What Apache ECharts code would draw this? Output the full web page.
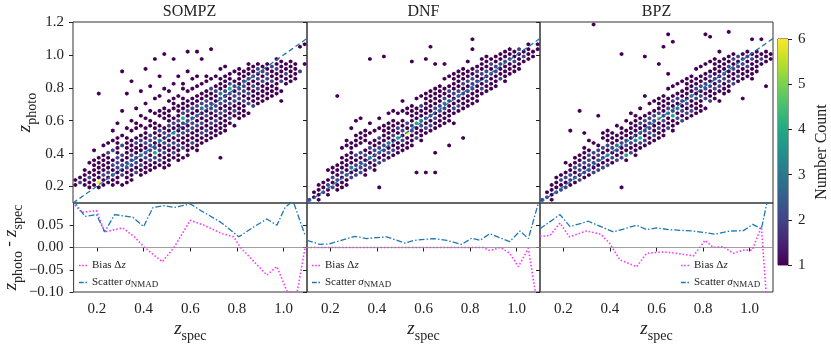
<!DOCTYPE html>
<html>
<head>
<meta charset="utf-8">
<script src="https://cdn.jsdelivr.net/npm/echarts@6/dist/echarts.min.js"></script>
<style>
  html, body { margin: 0; padding: 0; background: #fff; }
  #main { width: 831px; height: 344px; }
</style>
</head>
<body>
<div id="main"></div>
<script>
// galaxies, in hundredths: [zspec, [zphoto, ...]]
var sompzCols = [
  [11,[22,24]],[13,[21,22,26]],[15,[22,23,27,30]],[17,[20,22,25,26,29,33]],[19,[22,24,27,29,32,35,41]],
  [21,[20,22,23,26,29,31,34,37,76]],[23,[22,25,26,28,31,34,35,38,44]],[25,[22,24,27,29,30,33,36,39,40,47]],
  [27,[22,25,26,28,31,33,34,37,41,43,48,53]],[29,[22,24,27,30,31,33,36,38,39,42,45,49,58]],
  [31,[22,26,27,29,32,34,37,38,40,44,46,52,66,90]],[33,[22,25,28,30,31,34,35,38,41,42,45,50,55,75]],
  [35,[25,27,29,32,33,36,39,40,43,44,48,53,61,85]],[37,[27,28,31,33,35,37,38,41,43,46,47,50,54,57,68]],
  [39,[28,30,32,34,37,38,40,42,45,48,49,52,56,63,78]],[41,[29,31,33,36,38,39,41,44,45,47,50,53,55,60,70,92]],
  [43,[31,32,35,37,39,41,42,45,47,48,51,52,57,61,66,82]],[45,[32,34,37,38,40,43,44,46,49,50,53,56,59,64,72,98]],
  [47,[33,36,37,40,42,43,46,48,49,51,54,55,58,62,65,75,88]],[49,[31,35,38,39,41,44,45,47,50,52,53,56,60,63,68,80,100]],
  [51,[34,37,39,41,44,45,47,50,51,53,56,58,61,64,66,71,78]],[53,[36,39,41,42,45,47,48,51,53,55,57,59,62,66,69,72,82,97]],
  [55,[37,40,43,44,46,49,50,52,55,56,59,61,63,67,70,76,87]],[57,[38,42,44,46,48,51,52,54,57,58,60,63,64,68,71,74,79,83]],
  [59,[40,43,46,48,50,53,54,56,59,60,62,65,66,69,72,77,89,103]],[61,[42,45,47,50,52,55,56,58,60,62,64,67,68,70,74,78,84]],
  [63,[43,46,49,52,54,56,57,60,62,63,65,68,70,72,76,80,86,102]],[65,[45,48,51,53,56,58,59,61,63,66,67,69,71,74,77,82,97]],
  [67,[47,50,53,55,58,59,62,64,65,68,70,71,73,76,79,83,88]],[69,[49,52,54,57,59,61,63,66,67,69,71,73,75,78,80,85,104]],
  [71,[51,54,57,59,61,62,65,67,69,70,73,75,77,79,82,86]],[73,[38,53,56,58,61,63,64,67,69,71,73,74,77,79,81,84,90]],
  [75,[55,57,60,63,65,67,68,71,72,75,77,79,81,83,87,92]],[77,[57,60,62,65,67,69,71,72,75,77,78,81,83,85,88]],
  [79,[58,62,65,67,69,71,73,75,76,79,81,82,85,89]],[81,[61,64,67,69,72,73,75,77,79,80,83,84,87,91]],
  [83,[63,66,69,71,73,76,77,79,81,83,85,88,91]],[85,[65,69,71,74,76,77,80,81,84,86,87,90,93]],
  [87,[68,70,73,75,78,80,81,83,86,88,89,92]],[89,[70,73,75,78,80,82,84,85,88,90,92,95]],
  [91,[72,76,78,81,83,85,86,89,91,93]],[93,[72,75,79,81,84,86,88,89,92,95]],[95,[74,78,80,83,85,88,90,92,94]],
  [97,[77,80,82,85,87,90,91,94,96]],[99,[71,79,83,85,88,89,92,95]],[101,[81,84,87,89,91,94]],
  [103,[84,87,89,92,96]],[105,[86,89,91,94]],[107,[89,91,104]],[109,[95,106]]
];
var dnfCols = [
  [11,[11,13]],[13,[12,15]],[15,[13,14,17,20]],[17,[15,17,18,22]],[19,[16,19,20,22,25,29]],
  [21,[18,19,22,24,25,28,32]],[23,[19,21,24,25,27,30,34,75]],[25,[20,23,24,27,28,31,33,37,42]],
  [27,[22,24,27,28,30,33,35,39,44,49]],[29,[24,25,28,31,32,34,37,41,42,47,56]],
  [31,[26,27,29,32,34,35,38,40,44,48,52,60]],[33,[27,29,31,32,35,37,40,41,45,48,53,62]],
  [35,[28,31,33,34,36,39,40,43,47,50,55]],[37,[30,32,33,36,38,39,42,44,45,51,58,97]],
  [39,[31,34,36,37,40,42,43,46,49,53]],[41,[20,33,35,38,39,41,44,45,48,50,56,62]],
  [43,[35,37,40,41,43,46,47,50,53,57,99]],[45,[37,39,41,44,46,47,49,52,55,59,64]],
  [47,[39,42,43,45,48,50,51,54,57,61,67]],[49,[40,43,45,48,49,51,54,56,58,63]],
  [51,[42,45,47,48,51,53,55,58,61,66,71]],[53,[44,46,49,51,52,55,58,59,64,68]],
  [55,[46,48,50,53,55,57,58,61,63,67,70,96]],[57,[28,48,50,53,54,57,59,62,63,66,73]],
  [59,[49,52,55,56,58,61,63,65,68,70,75]],[61,[29,52,54,56,59,61,62,65,67,69,72,77,97]],
  [63,[53,56,58,61,63,64,67,69,71,74,78,105]],[65,[27,40,55,58,61,62,65,67,68,71,73,76,80,95]],
  [67,[58,60,62,65,67,69,70,73,75,78,82]],[69,[59,62,64,67,68,71,73,74,77,80,84,94]],
  [71,[46,61,64,66,69,71,72,75,77,79,82,86]],[73,[58,63,66,67,70,72,75,76,78,81,84,88]],
  [75,[65,68,70,72,74,77,78,81,83,86,90]],[77,[50,67,69,72,75,76,78,81,82,85,88,92]],
  [79,[69,72,74,77,79,80,83,85,87,90,95]],[81,[71,74,75,78,81,82,85,86,89,92,104,108]],
  [83,[73,76,78,80,83,84,87,89,91,94]],[85,[75,78,80,82,85,87,88,91,93,96]],
  [87,[77,80,83,85,86,89,91,92,95,98]],[89,[80,81,84,87,89,90,93,95,97]],
  [91,[81,84,86,89,91,93,94,97,99]],[93,[84,86,89,91,93,95,96,100]],[95,[85,88,91,92,95,97,99,101]],
  [97,[88,90,93,96,97,99,102]],[99,[90,92,95,97,100,101]],[101,[92,94,97,99,102,103]],
  [103,[95,98,100,103]],[105,[97,100,102,107]],[107,[100,103]],[109,[103,105]]
];
var bpzCols = [
  [11,[11,13]],[13,[12,14,17]],[15,[13,16,17,20]],[17,[15,16,19,22,25]],[19,[17,18,21,23,24,27]],
  [21,[19,20,23,25,26,29,33]],[23,[20,23,24,26,28,31,33,55]],[25,[22,24,26,27,30,32,34,38]],
  [27,[24,25,28,29,31,34,36,40,66]],[29,[25,27,29,31,33,34,37,39,42,51]],[31,[26,29,30,32,34,36,38,39,43,47]],
  [33,[28,29,31,34,35,37,40,41,45,119]],[35,[29,31,32,35,37,38,40,43,46,63]],
  [37,[30,32,35,36,38,40,42,44,48,52]],[39,[32,34,36,38,39,42,44,45,47,50,55]],
  [41,[33,36,37,39,42,43,45,48,51]],[43,[35,37,38,41,43,44,46,49,52,57]],
  [45,[20,36,38,40,42,45,46,48,51,54,100]],[47,[37,40,41,44,46,47,49,52,55,59]],
  [49,[39,41,44,45,47,50,51,54,57,63]],[51,[40,43,45,47,49,51,53,56,59,62]],
  [53,[42,45,47,48,51,53,55,57,58,61,66]],[55,[44,47,49,51,53,55,56,59,61,63,75,100]],
  [57,[46,48,51,53,54,56,59,60,62,65,69]],[59,[48,51,52,55,57,59,60,63,64,67,71]],
  [61,[50,52,55,56,58,61,63,64,66,69,73,95]],[63,[52,54,57,59,60,62,64,67,68,71,75,106]],
  [65,[54,56,58,61,63,64,66,68,70,73,78,89,113]],[67,[55,58,60,62,65,66,68,71,72,75,80,109]],
  [69,[57,60,62,64,66,68,70,72,74,77,82]],[71,[59,61,64,66,67,70,72,73,76,79,84]],
  [73,[61,63,65,68,70,71,74,76,78,81,86]],[75,[63,66,67,70,72,74,75,78,80,83,88]],
  [77,[65,67,70,72,73,76,78,79,82,85,90]],[79,[67,70,71,74,76,78,80,81,84,87,92]],
  [81,[66,72,74,75,78,80,82,83,86,89,94,113]],[83,[71,73,76,78,80,81,84,86,88,91,96,110]],
  [85,[73,76,78,79,82,84,85,88,90,93,98]],[87,[72,78,80,82,84,85,88,90,92,95,102]],
  [89,[77,79,82,84,86,88,89,92,94,97]],[91,[79,82,84,85,88,90,92,93,96,99,114]],
  [93,[81,83,86,88,90,91,94,96,98,101]],[95,[83,86,88,90,92,94,95,98,100]],
  [97,[72,85,88,90,93,94,97,98,101]],[99,[87,89,92,94,96,98,100,103]],[101,[84,89,91,94,96,97,100,110]],
  [103,[91,94,96,98,101]],[105,[93,96,98,101,108]],[107,[82,96,99,101]],[109,[98,100]]
];
// extra galaxies piling up in the brighter cells: [zspec, zphoto, how many] (hundredths)
var sompzExtra = [[21,22,4],[29,33,1],[35,37,1],[39,38,1],[45,39,3],[43,44,1],[47,47,1],[53,52,2],
  [57,62,3],[61,58,1],[65,66,1],[73,75,2],[77,79,3],[83,82,1]];
var dnfExtra = [[53,53,4],[49,50,2],[59,60,2],[45,46,1],[41,42,1],[37,38,1],[33,34,1],
  [29,30,1],[69,69,2],[57,58,2],[43,44,1],[75,76,1],[81,80,1]];
var bpzExtra = [[61,62,4],[67,62,3],[53,50,3],[47,40,3],[39,40,2],[35,41,1],[31,36,1],[43,44,1],
  [51,48,1],[57,57,1],[65,64,1],[69,67,1],[27,33,1],[75,74,1]];

// residual curves
var sompzScatX = [0.10,0.148,0.198,0.233,0.276,0.354,0.40,0.44,0.489,0.53,0.60,0.645,0.73,0.808,0.871,0.928,0.971,1.006,1.04,1.092];
var sompzScatY = [0.105,0.070,0.074,0.035,0.074,0.068,0.047,0.090,0.094,0.090,0.098,0.083,0.057,0.024,0.046,0.064,0.050,0.090,0.105,0.027];
var sompzBiasX = [0.105,0.135,0.198,0.233,0.311,0.36,0.404,0.48,0.53,0.60,0.659,0.737,0.786,0.815,0.928,0.971,1.014,1.056,1.092];
var sompzBiasY = [0.095,0.079,0.083,0.035,0.044,0.024,0.0,-0.032,0.0,0.061,0.05,0.031,0.024,0.0,-0.062,-0.043,-0.098,-0.105,0.0];
var dnfScatX = [0.10,0.156,0.195,0.306,0.356,0.442,0.52,0.56,0.642,0.70,0.764,0.807,0.842,0.885,0.97,1.014,1.05,1.093];
var dnfScatY = [0.016,0.007,0.008,0.025,0.02,0.024,0.01,0.016,0.02,0.016,0.007,0.021,0.016,0.031,0.013,0.037,0.02,0.10];
var dnfBiasX = [0.10,0.195,0.306,0.442,0.56,0.70,0.855,0.885,0.93,0.97,1.007,1.05,1.08];
var dnfBiasY = [0.0,0.0,0.0,0.0,0.0,0.0,0.0,-0.007,0.0,-0.013,-0.043,-0.002,-0.10];
var bpzScatX = [0.10,0.186,0.229,0.307,0.415,0.515,0.558,0.60,0.658,0.758,0.851,0.915,0.973,1.013,1.05,1.073,1.09];
var bpzScatY = [0.042,0.074,0.047,0.059,0.035,0.05,0.04,0.044,0.04,0.037,0.03,0.037,0.038,0.052,0.042,0.098,0.13];
var bpzBiasX = [0.10,0.143,0.186,0.226,0.30,0.36,0.40,0.443,0.515,0.558,0.63,0.687,0.758,0.808,0.844,0.886,0.93,0.973,1.01,1.05,1.073];
var bpzBiasY = [0.025,0.027,0.055,0.024,0.037,0.03,0.009,-0.028,-0.043,-0.013,-0.01,-0.013,-0.019,0.016,0.0,0.002,-0.013,-0.006,-0.006,0.046,-0.12];

var titles = ['SOMPZ', 'DNF', 'BPZ'];
var zRange = [0.1, 1.1];
var zTicks = [0.2, 0.4, 0.6, 0.8, 1.0];
var photoTicks = [0.2, 0.4, 0.6, 0.8, 1.0, 1.2];
var resTicks = [-0.1, -0.05, 0, 0.05];
var countTicks = [1, 6];

var viridis = ['#440154','#482475','#414487','#355f8d','#2a788e','#21918c','#22a884','#44bf70','#7ad151','#bddf26','#fde725'];

var myChart = echarts.init(document.getElementById('main'));
var FONT = 'Liberation Serif';
var INK = '#222';
var BIAS = '#ff33ff', SCAT = '#1f77b4';
var lefts = [73, 307, 540];
var W = 233;

// hexagonal binning: columns every 0.02 in zspec, rows every 0.03 in zphoto,
// neighbouring columns shifted by half a row
function hexbin(cols, extra) {
    var bins = {};
    function add(x, y, n) {
        var k = Math.round((x - 11) / 2);
        var off = (k % 2 === 0) ? 0 : 1.5;
        var j = Math.round((y - off) / 3);
        var key = k + ':' + j;
        if (!bins[key]) bins[key] = [(11 + 2 * k) / 100, (j * 3 + off) / 100, 0];
        bins[key][2] += n;
    }
    cols.forEach(function (c) { c[1].forEach(function (y) { add(c[0], y, 1); }); });
    extra.forEach(function (e) { add(e[0], e[1], e[2]); });
    return Object.keys(bins).map(function (k) { return bins[k]; })
        .sort(function (a, b) { return a[2] - b[2]; });
}
function pairs(xs, ys) {
    return xs.map(function (x, i) { return [x, ys[i]]; });
}

var nameRich = {
    z: { fontFamily: FONT, fontStyle: 'italic', fontSize: 19, color: INK, verticalAlign: 'top', padding: [0, 0, 5, 0] },
    s: { fontFamily: FONT, fontSize: 14, color: INK, verticalAlign: 'bottom' },
    m: { fontFamily: FONT, fontSize: 17, color: INK, verticalAlign: 'top', padding: [0, 0, 5, 0] }
};

var grids = [], xAxes = [], yAxes = [], series = [], legends = [], texts = [];
var hexSets = [hexbin(sompzCols, sompzExtra), hexbin(dnfCols, dnfExtra), hexbin(bpzCols, bpzExtra)];
var biasSets = [pairs(sompzBiasX, sompzBiasY), pairs(dnfBiasX, dnfBiasY), pairs(bpzBiasX, bpzBiasY)];
var scatSets = [pairs(sompzScatX, sompzScatY), pairs(dnfScatX, dnfScatY), pairs(bpzScatX, bpzScatY)];

for (var i = 0; i < 3; i++) {
    grids.push({ left: lefts[i], top: 22, width: (i === 0 ? 234 : W), height: 181, show: true, borderColor: '#333', borderWidth: 1 });
    texts.push({ type: 'text', x: lefts[i] + W / 2, y: 4, style: { text: titles[i], font: '16px "' + FONT + '"', fill: INK, textAlign: 'center' } });
}
for (var i = 0; i < 3; i++) {
    grids.push({ left: lefts[i], top: 203, width: (i === 0 ? 234 : W), height: 91, show: true, borderColor: '#333', borderWidth: 1 });
}
grids.push({ left: 778, top: 39, width: 10, height: 226, show: true, borderColor: '#333', borderWidth: 1 });

// top panels axes
for (var i = 0; i < 3; i++) {
    xAxes.push({ type: 'value', gridIndex: i, min: zRange[0], max: zRange[1],
        axisLine: { show: false }, axisTick: { show: false }, axisLabel: { show: false }, splitLine: { show: false } });
    yAxes.push({ type: 'value', gridIndex: i, min: 0.1, max: 1.2,
        axisLine: { show: false },
        axisTick: { show: true, inside: false, length: 4, customValues: photoTicks, lineStyle: { color: INK } },
        axisLabel: { show: i === 0, customValues: photoTicks, margin: 9, fontFamily: FONT, fontSize: 15, color: INK,
            formatter: function (v) { return v.toFixed(1); } },
        splitLine: { show: false },
        name: i === 0 ? '{z|z}{s|photo}' : '', nameLocation: 'middle', nameRotate: 90, nameGap: 34,
        nameTextStyle: { rich: nameRich } });
}
// bottom panels axes
for (var i = 0; i < 3; i++) {
    xAxes.push({ type: 'value', gridIndex: 3 + i, min: zRange[0], max: zRange[1],
        axisLine: { show: false },
        axisTick: { show: true, inside: false, length: 4, customValues: zTicks, lineStyle: { color: INK } },
        axisLabel: { customValues: zTicks, margin: 10, fontFamily: FONT, fontSize: 15, color: INK,
            formatter: function (v) { return v.toFixed(1); } },
        splitLine: { show: false },
        name: '{z|z}{s|spec}', nameLocation: 'middle', nameGap: 27, nameTextStyle: { rich: nameRich } });
    yAxes.push({ type: 'value', gridIndex: 3 + i, min: -0.1, max: 0.1, interval: 0.05,
        axisLine: { show: false },
        axisTick: { show: true, inside: false, length: 4, customValues: resTicks, lineStyle: { color: INK } },
        axisLabel: { show: i === 0, customValues: resTicks, margin: 10, fontFamily: FONT, fontSize: 15, color: INK,
            formatter: function (v) { return (v < -1e-9 ? '\u2212' : '') + Math.abs(v).toFixed(2); } },
        splitLine: { show: false },
        name: i === 0 ? '{z|z}{s|photo}{m| - }{z|z}{s|spec}' : '', nameLocation: 'middle', nameRotate: 90, nameGap: 41,
        nameTextStyle: { rich: nameRich } });
}
// colorbar axes
xAxes.push({ type: 'category', gridIndex: 6, data: ['c'], show: false });
yAxes.push({ type: 'value', gridIndex: 6, position: 'right', min: 1, max: 6, interval: 1,
    axisLine: { show: false },
    axisTick: { show: true, inside: false, length: 4, lineStyle: { color: INK } },
    axisLabel: { margin: 10, fontFamily: FONT, fontSize: 15, color: INK },
    splitLine: { show: false },
    name: 'Number Count', nameLocation: 'middle', nameRotate: 90, nameGap: 26,
    nameTextStyle: { fontFamily: FONT, fontSize: 16, color: INK } });

// hexbin cells
for (var i = 0; i < 3; i++) {
    series.push({ type: 'scatter', xAxisIndex: i, yAxisIndex: i, data: hexSets[i],
        symbol: 'path://M0,-1L0.866,-0.5L0.866,0.5L0,1L-0.866,0.5L-0.866,-0.5Z',
        symbolSize: [3.8, 4.1], itemStyle: { opacity: 1 }, silent: true, z: 2 });
}
// one-to-one line
for (var i = 0; i < 3; i++) {
    series.push({ type: 'line', xAxisIndex: i, yAxisIndex: i, data: [[zRange[0], zRange[0]], [zRange[1], zRange[1]]],
        symbol: 'none', lineStyle: { color: SCAT, width: 1.3, type: [5, 3] }, z: 5, silent: true });
}
// bias and scatter
for (var i = 0; i < 3; i++) {
    series.push({ type: 'line', name: 'bias', xAxisIndex: 3 + i, yAxisIndex: 3 + i, data: biasSets[i],
        symbol: 'none', itemStyle: { color: BIAS }, lineStyle: { color: BIAS, width: 1.6, type: [1.5, 2] }, z: 4,
        markLine: { silent: true, symbol: 'none', label: { show: false },
            lineStyle: { color: '#888', width: 0.8, type: 'solid' }, data: [{ yAxis: 0 }] } });
}
for (var i = 0; i < 3; i++) {
    series.push({ type: 'line', name: 'scatter', xAxisIndex: 3 + i, yAxisIndex: 3 + i, data: scatSets[i],
        symbol: 'none', itemStyle: { color: SCAT }, lineStyle: { color: SCAT, width: 1.3, type: [6, 2, 1.5, 2] }, z: 4 });
}
// colorbar
series.push({ type: 'bar', xAxisIndex: 6, yAxisIndex: 6, stack: 'cb', data: [countTicks[0]], barWidth: '100%',
    itemStyle: { color: 'rgba(0,0,0,0)' }, silent: true });
series.push({ type: 'bar', xAxisIndex: 6, yAxisIndex: 6, stack: 'cb', data: [countTicks[1] - countTicks[0]], barWidth: '100%',
    itemStyle: { color: new echarts.graphic.LinearGradient(0, 0, 0, 1, viridis.slice().reverse().map(function (c, k) {
        return { offset: k / (viridis.length - 1), color: c };
    })) }, silent: true });

var legendLefts = [79, 312, 681];
var legendRich = {
    r: { fontFamily: FONT, fontSize: 11, color: INK },
    i: { fontFamily: FONT, fontStyle: 'italic', fontSize: 11, color: INK },
    s: { fontFamily: FONT, fontSize: 9, color: INK, verticalAlign: 'bottom', padding: [5, 0, 0, 0] }
};
var dotIcon = 'path://M0,0h1.4v1.4h-1.4z M2.8,0h1.4v1.4h-1.4z M5.6,0h1.4v1.4h-1.4z';
var dashIcon = 'path://M0,0h4.2v1.3h-4.2z M5.6,0h1.4v1.3h-1.4z';
for (var i = 0; i < 3; i++) {
    legends.push({ left: legendLefts[i], top: 260, orient: 'vertical', itemWidth: 8, itemHeight: 10, itemGap: 6,
        data: [{ name: 'bias', icon: dotIcon, itemStyle: { color: BIAS } },
               { name: 'scatter', icon: dashIcon, itemStyle: { color: SCAT } }],
        selectedMode: false, padding: 0,
        formatter: function (n) { return n === 'bias' ? '{r|Bias \u0394}{i|z}' : '{r|Scatter }{i|\u03c3}{s|NMAD}'; },
        textStyle: { rich: legendRich } });
}

var option = {
    animation: false,
    backgroundColor: '#fff',
    grid: grids,
    xAxis: xAxes,
    yAxis: yAxes,
    legend: legends,
    visualMap: { type: 'continuous', show: false, min: 1, max: 6, dimension: 2, seriesIndex: [0, 1, 2],
        inRange: { color: viridis } },
    graphic: texts,
    series: series
};
myChart.setOption(option);
</script>
</body>
</html>
